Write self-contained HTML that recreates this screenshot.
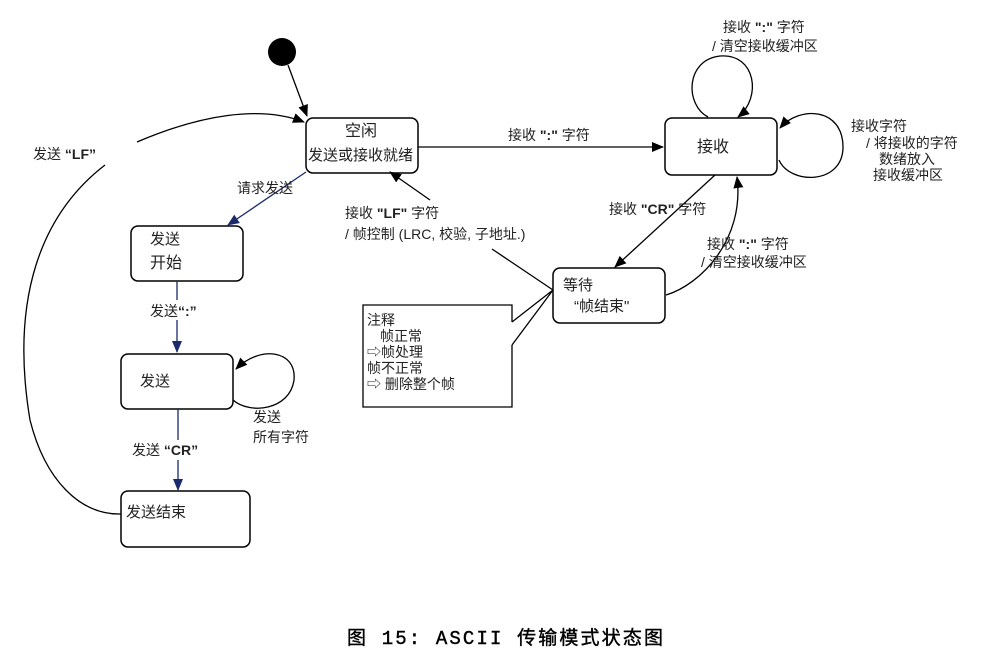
<!DOCTYPE html>
<html><head><meta charset="utf-8"><style>
body{margin:0;background:#fff;width:999px;height:658px;overflow:hidden}
svg text{font-family:"Liberation Sans","Noto Sans CJK SC",sans-serif;font-size:14px;fill:#222}
</style></head><body>
<svg width="999" height="658" viewBox="0 0 999 658">
<defs>
<marker id="a" markerWidth="12" markerHeight="10" refX="11" refY="5" orient="auto" markerUnits="userSpaceOnUse"><path d="M0,0L12,5L0,10z" fill="#000"/></marker>
<marker id="n" markerWidth="12" markerHeight="10" refX="11" refY="5" orient="auto" markerUnits="userSpaceOnUse"><path d="M0,0L12,5L0,10z" fill="#1a2a6c"/></marker>
</defs>
<g fill="none" stroke="#000" stroke-width="1.5">
<rect x="306" y="118" width="112" height="55" rx="7"/>
<rect x="131" y="226" width="112" height="55" rx="7"/>
<rect x="121" y="354" width="112" height="55" rx="7"/>
<rect x="121" y="491" width="129" height="56" rx="7"/>
<rect x="665" y="118" width="112" height="57" rx="7"/>
<rect x="553" y="268" width="112" height="55" rx="7"/>
</g>
<circle cx="282" cy="52" r="14" fill="#000"/>
<g fill="none" stroke="#000" stroke-width="1.3">
<line x1="288" y1="65" x2="307" y2="116" marker-end="url(#a)"/>
<path d="M137,142 C200,115 260,105 304,122" marker-end="url(#a)"/>
<path d="M105,165 C40,215 10,300 30,420 C45,480 80,515 121,514"/>
<line x1="418" y1="147" x2="663" y2="147" marker-end="url(#a)"/>
<path d="M708,117 C685,105 685,60 720,56 C756,53 762,98 738,117" marker-end="url(#a)"/>
<path d="M779,160 C790,185 843,185 843,147 C843,108 800,105 780,128" marker-end="url(#a)"/>
<line x1="715" y1="175" x2="615" y2="267" marker-end="url(#a)"/>
<path d="M666,295 C700,285 745,240 737,177" marker-end="url(#a)"/>
<line x1="430" y1="200" x2="390" y2="172" marker-end="url(#a)"/>
<line x1="492" y1="249" x2="553" y2="290"/>
<path d="M512,322 L553,290 L512,345"/>
<path d="M512,322 L512,305 L363,305 L363,407 L512,407 L512,345"/>
<path d="M233,400 C250,415 290,410 294,380 C297,350 260,345 236,369" marker-end="url(#a)"/>
</g>
<g fill="none" stroke="#1a2a6c" stroke-width="1.3">
<line x1="306" y1="172" x2="228" y2="225" marker-end="url(#n)"/>
<line x1="177" y1="281" x2="177" y2="300"/>
<line x1="177" y1="320" x2="177" y2="352" marker-end="url(#n)"/>
<line x1="178" y1="409" x2="178" y2="440"/>
<line x1="178" y1="460" x2="178" y2="490" marker-end="url(#n)"/>
</g>
<text x="345" y="136" style="font-size:16px">空闲</text>
<text x="308" y="160" style="font-size:15px">发送或接收就绪</text>
<text x="150" y="244" style="font-size:15px">发送</text>
<text x="150" y="268" style="font-size:16px">开始</text>
<text x="140" y="386" style="font-size:15px">发送</text>
<text x="126" y="517" style="font-size:15px">发送结束</text>
<text x="697" y="152" style="font-size:16px">接收</text>
<text x="563" y="290" style="font-size:15px">等待</text>
<text x="574" y="311" style="font-size:15px">“帧结束"</text>
<text x="33" y="159">发送 <tspan font-weight="bold">“LF”</tspan></text>
<text x="237" y="193">请求发送</text>
<text x="150" y="316">发送<tspan font-weight="bold">“:”</tspan></text>
<text x="132" y="455">发送 <tspan font-weight="bold">“CR”</tspan></text>
<text x="253" y="422">发送</text>
<text x="253" y="442">所有字符</text>
<text x="508" y="140">接收 <tspan font-weight="bold">":"</tspan> 字符</text>
<text x="723" y="32">接收 <tspan font-weight="bold">":"</tspan> 字符</text>
<text x="712" y="51">/ 清空接收缓冲区</text>
<text x="851" y="131">接收字符</text>
<text x="866" y="148">/ 将接收的字符</text>
<text x="879" y="164">数绪放入</text>
<text x="873" y="180">接收缓冲区</text>
<text x="609" y="214">接收 <tspan font-weight="bold">"CR"</tspan> 字符</text>
<text x="707" y="249">接收 <tspan font-weight="bold">":"</tspan> 字符</text>
<text x="701" y="267">/ 清空接收缓冲区</text>
<text x="345" y="218">接收 <tspan font-weight="bold">"LF"</tspan> 字符</text>
<text x="345" y="239">/ 帧控制 (LRC, 校验, 子地址.)</text>
<text x="367" y="325">注释</text>
<text x="380" y="341">帧正常</text>
<text x="367" y="357">⇨帧处理</text>
<text x="367" y="373">帧不正常</text>
<text x="367" y="389">⇨ 删除整个帧</text>
<text x="347" y="644" textLength="316" lengthAdjust="spacing" style="font-size:19px;font-family:'Liberation Mono','WenQuanYi Zen Hei',monospace;fill:#000;stroke:#000;stroke-width:0.4">图 15:  ASCII 传输模式状态图</text>
</svg>
</body></html>
